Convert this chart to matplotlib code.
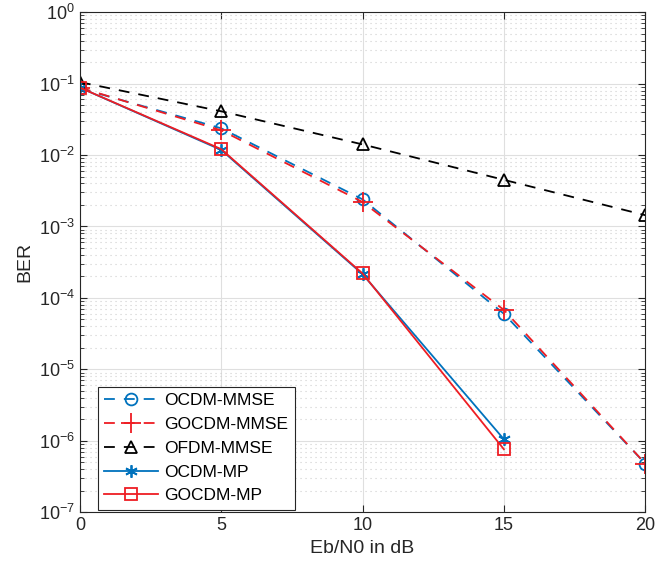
import matplotlib
matplotlib.use("Agg")
import matplotlib.pyplot as plt
from matplotlib.ticker import LogLocator, NullFormatter

plt.rcParams['font.family'] = ['Liberation Sans', 'DejaVu Sans']
plt.rcParams['mathtext.fontset'] = 'custom'
plt.rcParams['mathtext.rm'] = 'Liberation Sans'
plt.rcParams['mathtext.it'] = 'Liberation Sans'
plt.rcParams['mathtext.default'] = 'regular'

snr = [0, 5, 10, 15, 20]
snr_mp = [0, 5, 10, 15]
ocdm_mmse = [0.086, 0.0237, 0.0024, 6.0e-5, 4.8e-7]
gocdm_mmse = [0.088, 0.0222, 0.0022, 6.8e-5, 4.8e-7]
ofdm_mmse = [0.105, 0.041, 0.0141, 0.0045, 0.00144]
ocdm_mp = [0.088, 0.0118, 2.15e-4, 1.05e-6]
gocdm_mp = [0.088, 0.0121, 2.2e-4, 7.6e-7]

xticks = [0, 5, 10, 15, 20]
ytick_exps = [0, -1, -2, -3, -4, -5, -6, -7]

blue = '#0072BD'
red = '#EE1D23'
black = '#000000'

fig = plt.figure(figsize=(6.55, 5.82), dpi=100)
ax = fig.add_axes([0.122, 0.120, 0.863, 0.859])

lw = 1.3
dash = (6, 5)
ax.semilogy(snr, ocdm_mmse, ls='--', dashes=dash, color=blue, lw=lw, marker='o',
            mfc='none', ms=8.5, mew=1.3, label='OCDM-MMSE')
ax.semilogy(snr, gocdm_mmse, ls='--', dashes=dash, color=red, lw=lw, marker='+',
            ms=15, mew=1.3, label='GOCDM-MMSE')
ax.semilogy(snr, ofdm_mmse, ls='--', dashes=dash, color=black, lw=lw, marker='^',
            mfc='none', ms=9, mew=1.3, label='OFDM-MMSE')
ax.semilogy(snr_mp, ocdm_mp, ls='-', color=blue, lw=lw, marker=(6, 2, 0),
            ms=9, mew=1.3, label='OCDM-MP')
ax.semilogy(snr_mp, gocdm_mp, ls='-', color=red, lw=lw, marker='s',
            mfc='none', ms=9, mew=1.3, label='GOCDM-MP')

ax.set_xlim(0, 20)
ax.set_ylim(1e-7, 1e0)
ax.set_xticks(xticks)
ax.set_yticks([10.0**e for e in ytick_exps])
ax.set_yticklabels([r'$10^{%d}$' % e for e in ytick_exps])
ax.yaxis.set_minor_locator(LogLocator(base=10, subs=range(2, 10), numticks=20))
ax.yaxis.set_minor_formatter(NullFormatter())

ax.grid(True, which='major', color='#DFDFDF', lw=0.8)
ax.grid(True, which='minor', axis='y', color='#CFCFCF', lw=0.8, ls=(0, (1, 3.5)))
ax.set_axisbelow(True)

ax.tick_params(which='both', direction='in', top=True, right=True, colors='#262626',
               labelsize=13)
ax.tick_params(which='major', length=5)
ax.tick_params(which='minor', length=3)
for s in ax.spines.values():
    s.set_color('#262626')
    s.set_linewidth(0.8)

ax.set_xlabel('Eb/N0 in dB', fontsize=14, color='#262626')
ax.set_ylabel('BER', fontsize=14, color='#262626')

leg = ax.legend(loc='lower left', bbox_to_anchor=(0.027, 0.0), fontsize=12.5,
                handlelength=3.1, framealpha=1, edgecolor='#262626', fancybox=False,
                borderpad=0.35, labelspacing=0.5, handletextpad=0.4, borderaxespad=0.15)
leg.get_frame().set_linewidth(0.8)

fig.savefig('out.png', dpi=100)
